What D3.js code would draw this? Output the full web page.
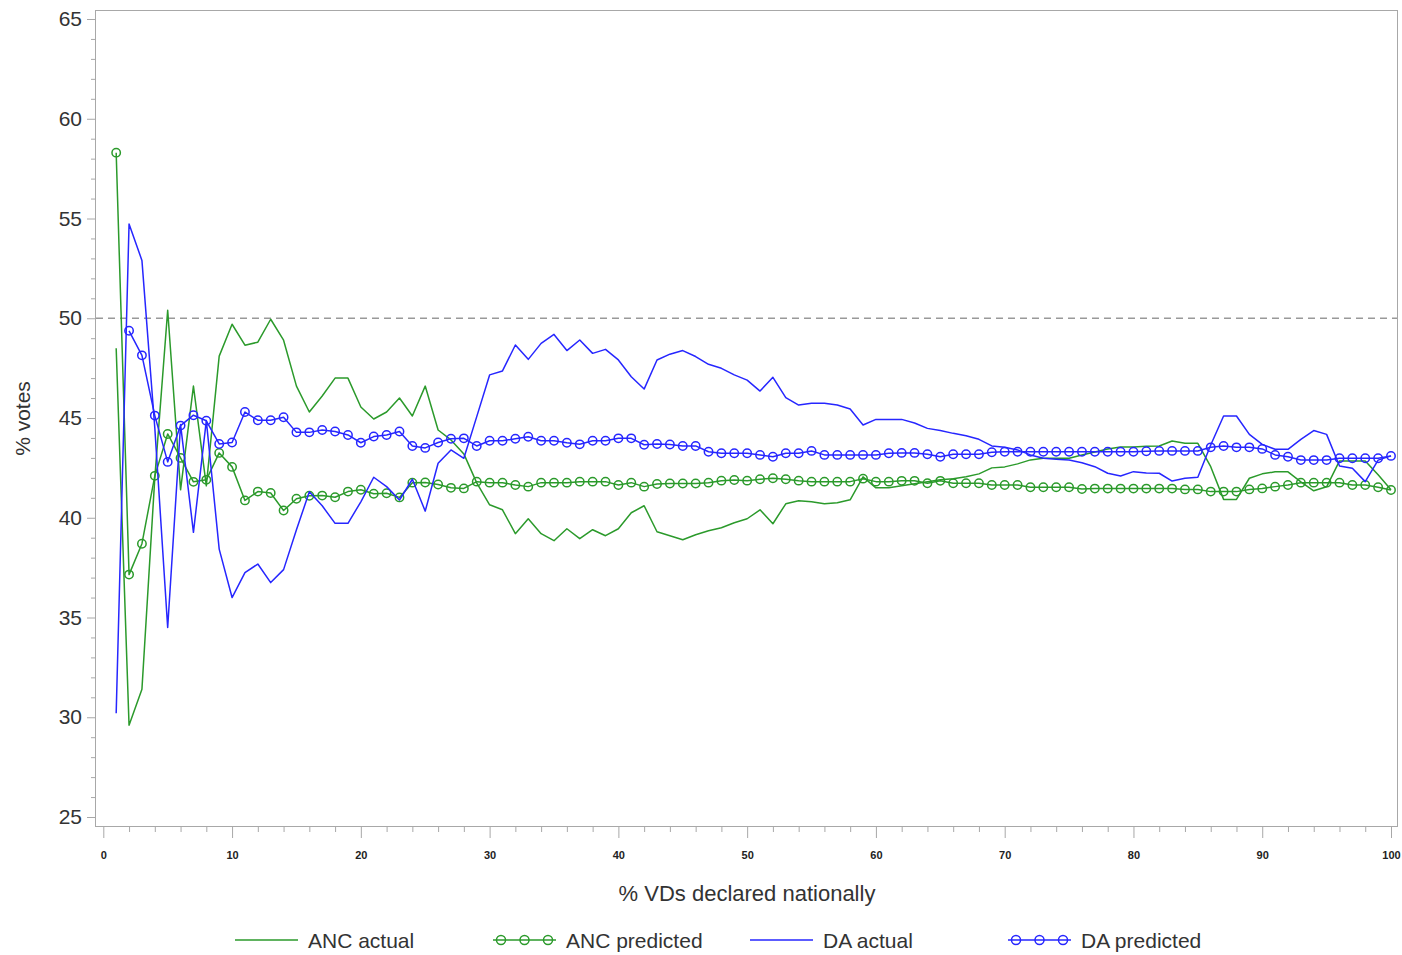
<!DOCTYPE html>
<html><head><meta charset="utf-8">
<script src="https://cdn.jsdelivr.net/npm/d3@7"></script>
<style>
html,body{margin:0;padding:0;background:#fff;}
svg{display:block;font-family:"Liberation Sans",Arial,sans-serif;}
</style></head>
<body><svg id="c" width="1402" height="955"></svg>
<script>
const xs = d3.range(1, 101);
const ancActual = [48.5,29.6,31.4,42.0,50.4,41.4,46.6,41.6,48.1,49.7,
48.65,48.8,49.95,48.9,46.6,45.3,46.1,47.0,47.0,45.55,
44.95,45.3,46.0,45.1,46.6,44.4,43.9,43.2,41.75,40.65,
40.4,39.2,39.95,39.2,38.85,39.45,38.95,39.4,39.1,39.45,
40.25,40.6,39.3,39.1,38.9,39.15,39.35,39.5,39.75,39.95,
40.4,39.7,40.7,40.85,40.8,40.7,40.75,40.9,42.05,41.5,
41.5,41.6,41.7,41.8,41.9,41.95,42.05,42.2,42.5,42.55,
42.7,42.9,42.98,42.98,42.98,43.15,43.3,43.45,43.55,43.55,
43.58,43.6,43.85,43.73,43.73,42.56,40.92,40.92,41.98,42.2,
42.3,42.3,41.8,41.35,41.55,42.85,42.85,42.85,42.15,41.4];
const ancPredicted = [58.3,37.15,38.7,42.1,44.2,43.0,41.8,41.9,43.25,42.55,
40.87,41.31,41.24,40.36,40.95,41.1,41.11,41.03,41.31,41.4,
41.2,41.23,41.02,41.76,41.77,41.67,41.5,41.47,41.81,41.76,
41.76,41.64,41.56,41.76,41.76,41.76,41.81,41.81,41.81,41.64,
41.76,41.56,41.69,41.72,41.72,41.72,41.76,41.86,41.89,41.86,
41.93,41.98,41.93,41.86,41.81,41.81,41.81,41.81,41.96,41.81,
41.81,41.85,41.85,41.73,41.85,41.73,41.73,41.73,41.64,41.64,
41.64,41.53,41.53,41.53,41.53,41.44,41.46,41.46,41.46,41.46,
41.46,41.46,41.46,41.42,41.42,41.31,41.31,41.31,41.42,41.47,
41.56,41.64,41.76,41.76,41.76,41.76,41.64,41.64,41.53,41.39];
const daActual = [30.2,54.72,52.9,44.5,34.5,44.67,39.27,44.87,38.43,36.0,
37.25,37.68,36.75,37.4,39.4,41.3,40.6,39.72,39.72,40.8,
42.03,41.56,40.89,41.93,40.33,42.73,43.4,42.98,45.07,47.16,
47.36,48.66,47.94,48.74,49.19,48.38,48.91,48.24,48.44,47.91,
47.07,46.45,47.91,48.2,48.38,48.08,47.69,47.49,47.16,46.9,
46.35,47.04,46.02,45.65,45.74,45.74,45.65,45.45,44.65,44.93,
44.93,44.93,44.75,44.48,44.37,44.23,44.11,43.93,43.6,43.53,
43.4,43.15,42.98,42.93,42.89,42.76,42.56,42.23,42.09,42.31,
42.24,42.23,41.84,41.98,42.03,43.65,45.1,45.1,44.18,43.68,
43.43,43.43,43.93,44.37,44.18,42.59,42.48,41.81,42.89,43.1];
const daPredicted = [null,49.37,48.14,45.12,42.8,44.62,45.14,44.86,43.7,43.77,
45.3,44.89,44.89,45.04,44.28,44.28,44.4,44.32,44.15,43.76,
44.07,44.15,44.32,43.6,43.5,43.77,43.96,43.98,43.6,43.86,
43.86,43.96,44.06,43.86,43.86,43.76,43.68,43.86,43.86,43.98,
43.98,43.66,43.7,43.67,43.6,43.6,43.31,43.23,43.23,43.23,
43.15,43.06,43.23,43.23,43.35,43.15,43.15,43.15,43.15,43.15,
43.23,43.25,43.25,43.18,43.06,43.18,43.18,43.18,43.28,43.31,
43.31,43.31,43.31,43.31,43.31,43.31,43.31,43.31,43.31,43.31,
43.33,43.35,43.35,43.35,43.35,43.53,43.6,43.53,43.53,43.45,
43.15,43.06,42.89,42.89,42.89,42.98,42.98,42.98,42.98,43.1];
const yTicks = [25,30,35,40,45,50,55,60,65];
const xTicks = [0,10,20,30,40,50,60,70,80,90,100];
const refLine = 50;
const seriesNames = ["ANC actual","ANC predicted","DA actual","DA predicted"];

const GREEN = "#2b9a2b", BLUE = "#2626ff", FRAME = "#a8a8a8";
const svg = d3.select("#c");
const x = d3.scaleLinear().domain([0,100]).range([103.3,1391]);
const y = d3.scaleLinear().domain([25,65]).range([817,19]);
const L = 95, R = 1398, T = 10, B = 827;

svg.append("rect").attr("x",0).attr("y",0).attr("width",1402).attr("height",955).attr("fill","#fff");

// frame
svg.append("rect").attr("x",L+0.5).attr("y",T+0.5).attr("width",R-L-1).attr("height",B-T-1)
  .attr("fill","none").attr("stroke",FRAME).attr("stroke-width",1);

// y axis major
const yAx = svg.append("g").attr("transform",`translate(${L},0)`)
  .call(d3.axisLeft(y).tickValues(yTicks).tickSize(8).tickPadding(5).tickFormat(d3.format("d")));
yAx.select(".domain").remove();
yAx.selectAll("line").attr("stroke",FRAME);
yAx.selectAll("text").attr("font-size",21).attr("fill","#333").attr("font-family","Liberation Sans, Arial, sans-serif");
const yMin = svg.append("g").attr("transform",`translate(${L},0)`)
  .call(d3.axisLeft(y).tickValues(d3.range(25,66,1).filter(v=>v%5)).tickSize(4).tickFormat(""));
yMin.select(".domain").remove();
yMin.selectAll("line").attr("stroke",FRAME);

// x axis
const xAx = svg.append("g").attr("transform",`translate(0,${B})`)
  .call(d3.axisBottom(x).tickValues(xTicks).tickSize(11).tickPadding(13).tickFormat(d3.format("d")));
xAx.select(".domain").remove();
xAx.selectAll("line").attr("stroke",FRAME);
xAx.selectAll("text").attr("font-size",11).attr("font-weight","bold").attr("fill","#222")
  .attr("font-family","Liberation Sans Narrow, Arial Narrow, Arial, sans-serif");
const xMin = svg.append("g").attr("transform",`translate(0,${B})`)
  .call(d3.axisBottom(x).tickValues(d3.range(2,100,2).filter(v=>v%10)).tickSize(5).tickFormat(""));
xMin.select(".domain").remove();
xMin.selectAll("line").attr("stroke",FRAME);

// reference line
svg.append("line").attr("x1",L+1).attr("x2",R-1).attr("y1",y(refLine)).attr("y2",y(refLine))
  .attr("stroke","#999").attr("stroke-width",1.5).attr("stroke-dasharray","7,5");

// titles
svg.append("text").attr("x",747).attr("y",901).attr("text-anchor","middle")
  .attr("font-size",22).attr("fill","#333").text("% VDs declared nationally");
svg.append("text").attr("transform",`translate(30,${(T+B)/2}) rotate(-90)`).attr("text-anchor","middle")
  .attr("font-size",21).attr("fill","#333").text("% votes");

const line = d3.line().defined(d=>d[1]!=null).x(d=>x(d[0])).y(d=>y(d[1]));
function pts(arr){ return xs.map((v,i)=>[v,arr[i]]); }

const plot = svg.append("g");
function drawLine(arr,color){
  plot.append("path").datum(pts(arr)).attr("d",line).attr("fill","none")
    .attr("stroke",color).attr("stroke-width",1.5).attr("stroke-linejoin","round");
}
function drawMarkers(arr,color){
  plot.append("g").selectAll("circle").data(pts(arr).filter(d=>d[1]!=null)).join("circle")
    .attr("cx",d=>x(d[0])).attr("cy",d=>y(d[1])).attr("r",4.2)
    .attr("fill","none").attr("stroke",color).attr("stroke-width",1.5);
}
drawLine(ancActual,GREEN);
drawLine(ancPredicted,GREEN);
drawMarkers(ancPredicted,GREEN);
drawLine(daActual,BLUE);
drawLine(daPredicted,BLUE);
drawMarkers(daPredicted,BLUE);

// legend
const legY = 940;
const legItems = [
  {name:seriesNames[0],color:GREEN,mk:false,x0:235},
  {name:seriesNames[1],color:GREEN,mk:true,x0:493},
  {name:seriesNames[2],color:BLUE,mk:false,x0:750},
  {name:seriesNames[3],color:BLUE,mk:true,x0:1008}
];
const lg = svg.append("g");
legItems.forEach(it=>{
  lg.append("line").attr("x1",it.x0).attr("x2",it.x0+63).attr("y1",legY).attr("y2",legY)
    .attr("stroke",it.color).attr("stroke-width",1.5);
  if(it.mk){
    [it.x0+8,it.x0+31.5,it.x0+55].forEach(cx=>{
      lg.append("circle").attr("cx",cx).attr("cy",legY).attr("r",4.5)
        .attr("fill","none").attr("stroke",it.color).attr("stroke-width",1.5);
    });
  }
  lg.append("text").attr("x",it.x0+73).attr("y",legY+7.5).attr("font-size",21)
    .attr("fill","#333").text(it.name);
});
</script></body></html>
